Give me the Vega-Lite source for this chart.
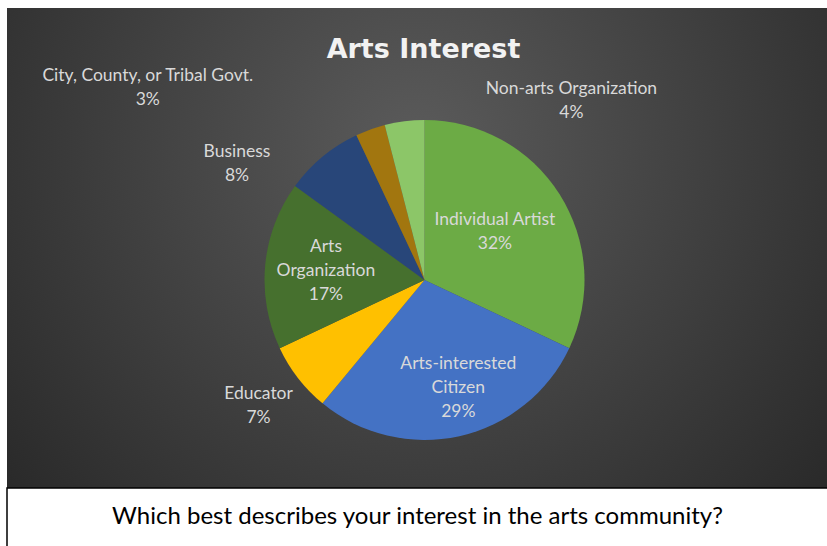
{
  "$schema": "https://vega.github.io/schema/vega-lite/v6.json",
  "padding": {"left": 6, "top": 8, "right": 0, "bottom": 0},
  "background": "white",
  "bounds": "flush",
  "spacing": 0,
  "config": {"font": "Lato", "concat": {"spacing": 0}},
  "datasets": {
    "interest": [
      {"rank": 1, "category": "Individual Artist", "wrapped": "Individual Artist", "pct": 32},
      {"rank": 2, "category": "Arts-interested Citizen", "wrapped": "Arts-interested\nCitizen", "pct": 29},
      {"rank": 3, "category": "Educator", "wrapped": "Educator", "pct": 7},
      {"rank": 4, "category": "Arts Organization", "wrapped": "Arts\nOrganization", "pct": 17},
      {"rank": 5, "category": "Business", "wrapped": "Business", "pct": 8},
      {"rank": 6, "category": "City, County, or Tribal Govt.", "wrapped": "City, County, or Tribal Govt.", "pct": 3},
      {"rank": 7, "category": "Non-arts Organization", "wrapped": "Non-arts Organization", "pct": 4}
    ]
  },
  "vconcat": [
    {
      "width": 821,
      "height": 480,
      "view": {
        "stroke": null,
        "fill": {
          "gradient": "radial",
          "x1": 0.5, "y1": 0.38, "r1": 0,
          "x2": 0.5, "y2": 0.38, "r2": 0.72,
          "stops": [
            {"offset": 0, "color": "#5b5b5b"},
            {"offset": 1, "color": "#242424"}
          ]
        }
      },
      "title": {
        "text": "Arts Interest",
        "font": "DejaVu Sans",
        "fontSize": 27,
        "fontWeight": "bold",
        "color": "#F2F2F2",
        "anchor": "middle",
        "baseline": "alphabetic",
        "offset": -77,
        "dx": 6
      },
      "data": {"name": "interest"},
      "transform": [
        {"calculate": "datum.wrapped + '\\n' + datum.pct + '%'", "as": "label"}
      ],
      "encoding": {
        "theta": {"field": "pct", "type": "quantitative", "stack": true},
        "order": {"field": "rank", "type": "quantitative"}
      },
      "layer": [
        {
          "mark": {"type": "arc", "outerRadius": 160, "xOffset": 7, "yOffset": 32},
          "encoding": {
            "color": {
              "field": "category",
              "type": "nominal",
              "legend": null,
              "scale": {
                "domain": ["Individual Artist", "Arts-interested Citizen", "Educator", "Arts Organization", "Business", "City, County, or Tribal Govt.", "Non-arts Organization"],
                "range": ["#6cab45", "#4472c4", "#ffc000", "#46702e", "#284679", "#a2760f", "#8cc668"]
              }
            }
          }
        },
        {
          "mark": {"type": "text", "radius": 100, "xOffset": 7, "yOffset": 32, "dx": -14, "dy": -6, "lineBreak": "\n", "fontSize": 17.5, "lineHeight": 24, "color": "#D9D9D9"},
          "encoding": {
            "text": {"condition": {"test": "datum.category === 'Individual Artist'", "field": "label"}, "value": ""}
          }
        },
        {
          "mark": {"type": "text", "radius": 100, "xOffset": 7, "yOffset": 32, "dx": 12, "dy": -14, "lineBreak": "\n", "fontSize": 17.5, "lineHeight": 24, "color": "#D9D9D9"},
          "encoding": {
            "text": {"condition": {"test": "datum.category === 'Arts-interested Citizen'", "field": "label"}, "value": ""}
          }
        },
        {
          "mark": {"type": "text", "radius": 100, "xOffset": 7, "yOffset": 32, "dx": 1, "dy": -24, "lineBreak": "\n", "fontSize": 17.5, "lineHeight": 24, "color": "#D9D9D9"},
          "encoding": {
            "text": {"condition": {"test": "datum.category === 'Arts Organization'", "field": "label"}, "value": ""}
          }
        },
        {
          "mark": {"type": "text", "radius": 205, "xOffset": 7, "yOffset": 32, "dx": -4, "dy": -12, "lineBreak": "\n", "fontSize": 17.5, "lineHeight": 24, "color": "#D9D9D9"},
          "encoding": {
            "text": {"condition": {"test": "datum.category === 'Educator'", "field": "label"}, "value": ""}
          }
        },
        {
          "mark": {"type": "text", "radius": 200, "xOffset": 7, "yOffset": 32, "dx": -60, "dy": 26, "lineBreak": "\n", "fontSize": 17.5, "lineHeight": 24, "color": "#D9D9D9"},
          "encoding": {
            "text": {"condition": {"test": "datum.category === 'Business'", "field": "label"}, "value": ""}
          }
        },
        {
          "mark": {"type": "text", "radius": 200, "xOffset": 7, "yOffset": 32, "dx": -209, "dy": -16, "lineBreak": "\n", "fontSize": 17.5, "lineHeight": 24, "color": "#D9D9D9"},
          "encoding": {
            "text": {"condition": {"test": "datum.category === 'City, County, or Tribal Govt.'", "field": "label"}, "value": ""}
          }
        },
        {
          "mark": {"type": "text", "radius": 200, "xOffset": 7, "yOffset": 32, "dx": 172, "dy": 7, "lineBreak": "\n", "fontSize": 17.5, "lineHeight": 24, "color": "#D9D9D9"},
          "encoding": {
            "text": {"condition": {"test": "datum.category === 'Non-arts Organization'", "field": "label"}, "value": ""}
          }
        }
      ]
    },
    {
      "width": 821,
      "height": 58,
      "view": {"fill": "white", "stroke": "black", "strokeWidth": 1.5, "strokeDash": [821, 879, 60, 0]},
      "data": {"values": [{"question": "Which best describes your interest in the arts community?"}]},
      "mark": {"type": "text", "font": "Lato", "fontSize": 24, "color": "black", "dy": 0},
      "encoding": {"text": {"field": "question", "type": "nominal"}}
    }
  ]
}
